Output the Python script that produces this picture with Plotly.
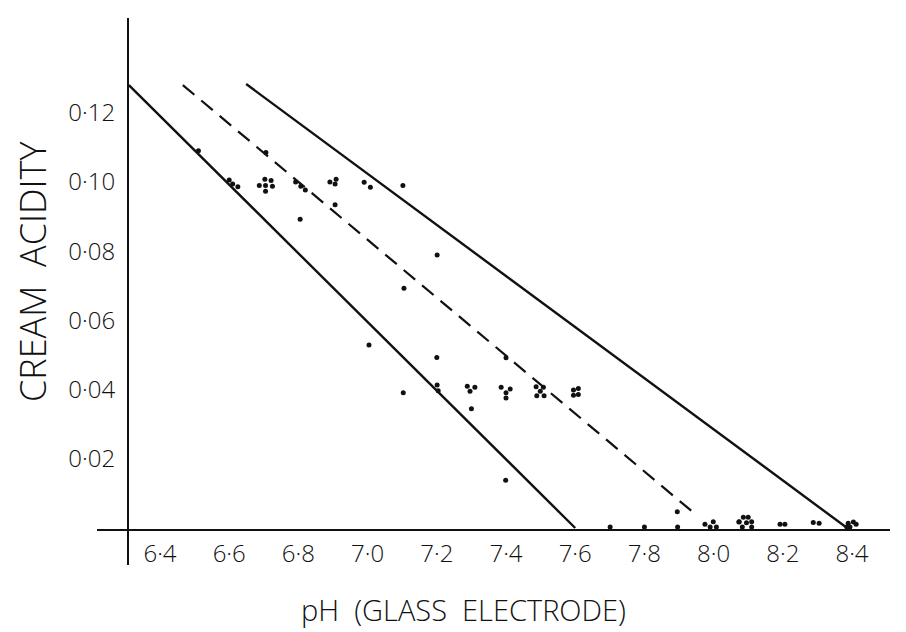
import plotly.graph_objects as go

# ---- data ----
ph_values = [
    6.511, 6.706,
    6.600, 6.610, 6.625,
    6.703, 6.721, 6.687, 6.705, 6.725, 6.705,
    6.792, 6.807, 6.820, 6.805,
    6.891, 6.909, 6.906, 6.906,
    6.990, 7.008, 7.102, 7.201, 7.105, 7.004,
    7.200, 7.400, 7.103, 7.201, 7.204,
    7.288, 7.310, 7.296, 7.300,
    7.386, 7.412, 7.400, 7.400,
    7.487, 7.508, 7.499, 7.489, 7.510,
    7.595, 7.609, 7.595, 7.609,
    7.399,
    7.701, 7.800, 7.896, 7.895,
    7.975, 7.999, 7.990, 8.008, 8.073,
    8.086, 8.100, 8.074, 8.095, 8.110, 8.083, 8.110,
    8.192, 8.206, 8.288, 8.305,
    8.389, 8.404, 8.412, 8.385, 8.394,
]
acidity_values = [
    0.1090, 0.1085,
    0.1006, 0.0994, 0.0986,
    0.1008, 0.1004, 0.0990, 0.0990, 0.0988, 0.0973,
    0.1000, 0.0988, 0.0977, 0.0892,
    0.1000, 0.1008, 0.0994, 0.0934,
    0.0999, 0.0985, 0.0990, 0.0789, 0.0693, 0.0529,
    0.0493, 0.0492, 0.0391, 0.0413, 0.0397,
    0.0410, 0.0407, 0.0395, 0.0345,
    0.0407, 0.0402, 0.0391, 0.0376,
    0.0408, 0.0407, 0.0395, 0.0382, 0.0382,
    0.0399, 0.0403, 0.0384, 0.0386,
    0.0138,
    0.0003, 0.0003, 0.0003, 0.0047,
    0.0011, 0.0018, 0.0003, 0.0003, 0.0017,
    0.0031, 0.0031, 0.0018, 0.0015, 0.0018, 0.0003, 0.0003,
    0.0011, 0.0011, 0.0016, 0.0014,
    0.0014, 0.0017, 0.0011, 0.0003, 0.0003,
]

# boundary lines (end points)
left_line_ph = [6.310, 7.600]
left_line_acid = [0.128, 0.0]
dashed_line_ph = [6.466, 7.940]
dashed_line_acid = [0.128, 0.0046]
right_line_ph = [6.649, 8.386]
right_line_acid = [0.1283, 0.0]

x_tick_vals = [6.4, 6.6, 6.8, 7.0, 7.2, 7.4, 7.6, 7.8, 8.0, 8.2, 8.4]
x_tick_text = ["6·4", "6·6", "6·8", "7·0", "7·2", "7·4", "7·6", "7·8", "8·0", "8·2", "8·4"]
y_tick_vals = [0.02, 0.04, 0.06, 0.08, 0.10, 0.12]
y_tick_text = ["0·02", "0·04", "0·06", "0·08", "0·10", "0·12"]

FONT = "Open Sans"
INK = "#111111"

fig = go.Figure()
fig.add_trace(go.Scatter(x=left_line_ph, y=left_line_acid, mode="lines",
                         line=dict(color=INK, width=2.4), hoverinfo="skip"))
fig.add_trace(go.Scatter(x=dashed_line_ph, y=dashed_line_acid, mode="lines",
                         line=dict(color=INK, width=2.2, dash="15px,9px"), hoverinfo="skip"))
fig.add_trace(go.Scatter(x=right_line_ph, y=right_line_acid, mode="lines",
                         line=dict(color=INK, width=2.4), hoverinfo="skip"))
fig.add_trace(go.Scatter(x=ph_values, y=acidity_values, mode="markers",
                         marker=dict(color=INK, size=5)))

# the page has an 8px body margin; the figure is sized to fit the window
OFF = 8
W, H = 906 - OFF, 632 - OFF
ml, mt = 97 - OFF, 18 - OFF
mr = W - (890 - OFF)
mb = H - (565 - OFF)
pw, ph_ = W - ml - mr, H - mt - mb

fig.update_layout(
    width=W, height=H,
    margin=dict(l=ml, r=mr, t=mt, b=mb, pad=0),
    paper_bgcolor="white", plot_bgcolor="white",
    showlegend=False,
    font=dict(family=FONT, color=INK),
    xaxis=dict(
        range=[6.2179, 8.5098],
        anchor="free", position=(565 - 530) / ph_,
        showline=True, linewidth=2, linecolor=INK,
        showgrid=False, zeroline=False,
        tickmode="array", tickvals=x_tick_vals, ticktext=x_tick_text,
        ticks="outside", ticklen=2, tickcolor="rgba(0,0,0,0)",
        tickfont=dict(family=FONT, size=24, color=INK, weight=300),
    ),
    yaxis=dict(
        range=[(528 - 565) / 3460, (528 - 18) / 3460],
        anchor="free", position=(128 - 97) / pw,
        showline=True, linewidth=2, linecolor=INK,
        showgrid=False, zeroline=False,
        tickmode="array", tickvals=y_tick_vals, ticktext=y_tick_text,
        ticks="outside", ticklen=7, tickcolor="rgba(0,0,0,0)",
        tickfont=dict(family=FONT, size=24, color=INK, weight=300),
    ),
    annotations=[
        dict(text="pH  (GLASS  ELECTRODE)", xref="paper", yref="paper",
             x=(463 - 97) / pw, y=(565 - 609) / ph_, showarrow=False,
             xanchor="center", yanchor="middle",
             font=dict(family=FONT, size=29, color=INK, weight=300)),
        dict(text="CREAM  ACIDITY", xref="paper", yref="paper",
             x=(32 - 97) / pw, y=(565 - 272) / ph_, showarrow=False,
             textangle=-90, xanchor="center", yanchor="middle",
             font=dict(family=FONT, size=36, color=INK, weight=300)),
    ],
)

fig.write_html("out.html")
